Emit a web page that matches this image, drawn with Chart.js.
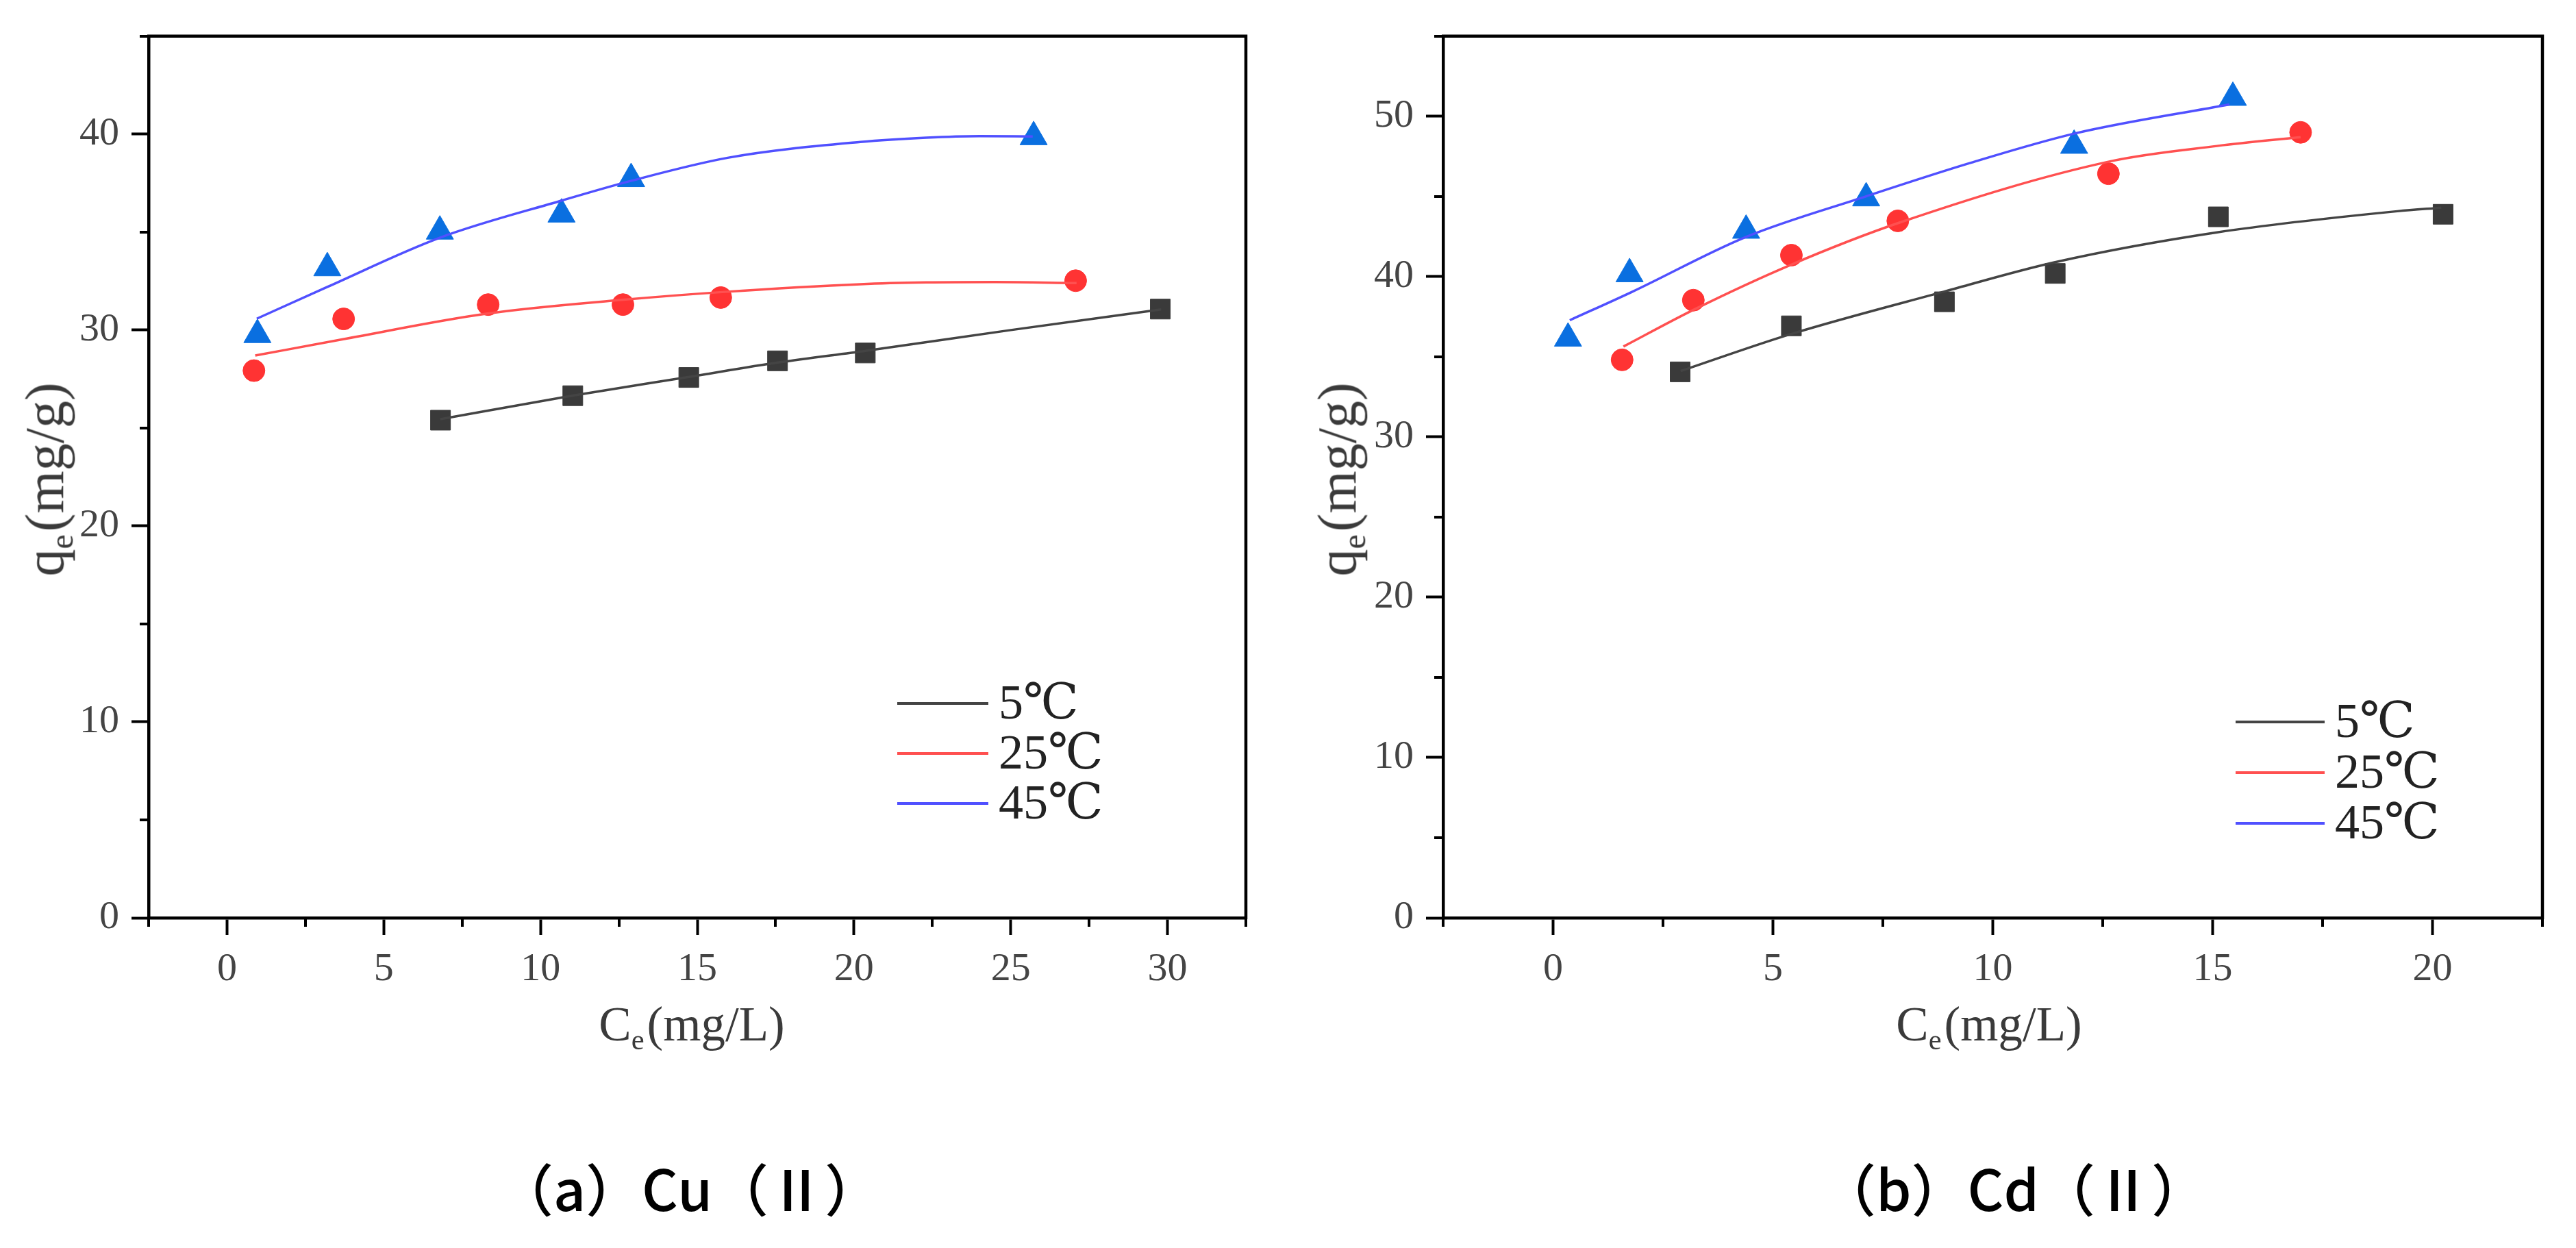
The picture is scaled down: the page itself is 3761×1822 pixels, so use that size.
<!DOCTYPE html>
<html>
<head>
<meta charset="utf-8">
<script src="https://cdn.jsdelivr.net/npm/chart.js@4.4.0/dist/chart.umd.min.js"></script>
<style>
html,body{margin:0;padding:0;background:#fff;width:3761px;height:1822px;overflow:hidden;}
canvas{position:absolute;top:0;}
#c1{left:0;}
#c2{left:1880px;}
.xt,.yt{position:absolute;white-space:nowrap;font-family:"Liberation Serif",serif;color:#3a3a3a;line-height:1;}
.xt{font-size:71px;transform:translate(-50%,-50%);}
.yt{font-size:80px;transform:translate(-50%,-50%) rotate(-90deg);}
.xt sub,.yt sub{font-size:0.6em;vertical-align:-0.3em;margin-right:4px;}
.cap{position:absolute;white-space:nowrap;font-family:"Noto Sans CJK SC",sans-serif;font-weight:500;font-size:82px;color:#000;transform:translate(-50%,-50%);line-height:1;}
</style>
</head>
<body>
<canvas id="c1" width="1880" height="1822"></canvas>
<canvas id="c2" width="1881" height="1822"></canvas>
<div class="xt" style="left:1010px;top:1500px;">C<sub>e</sub>(mg/L)</div>
<div class="xt" style="left:2904px;top:1500px;">C<sub>e</sub>(mg/L)</div>
<div class="yt" style="left:70px;top:700px;">q<sub>e</sub>(mg/g)</div>
<div class="yt" style="left:1957px;top:700px;">q<sub>e</sub>(mg/g)</div>
<div class="cap" style="left:1006px;top:1733px;">（a）Cu（Ⅱ）</div>
<div class="cap" style="left:2940px;top:1733px;">（b）Cd（Ⅱ）</div>
<script>
// ---------- data ----------
const seriesLabels = ['5℃', '25℃', '45℃'];

// (a) Cu(II) — measured points
const cu5X  = [6.81, 11.03, 14.73, 17.56, 20.36, 29.77];
const cu5Y  = [25.40, 26.65, 27.58, 28.43, 28.83, 31.07];
const cu25X = [0.86, 3.72, 8.33, 12.63, 15.75, 27.07];
const cu25Y = [27.93, 30.57, 31.30, 31.30, 31.66, 32.52];
const cu45X = [0.97, 3.20, 6.79, 10.67, 12.89, 25.73];
const cu45Y = [29.76, 33.17, 35.04, 35.91, 37.72, 39.86];
// (a) Cu(II) — fitted curves
const cu5FitX  = [6.8, 11.0, 14.7, 17.6, 20.4, 25.0, 29.8];
const cu5FitY  = [25.45, 26.65, 27.6, 28.35, 28.95, 30.0, 31.05];
const cu25FitX = [0.9, 3.7, 8.3, 12.6, 15.8, 20.2, 22.3, 24.5, 27.1];
const cu25FitY = [28.7, 29.53, 30.84, 31.54, 31.94, 32.34, 32.43, 32.45, 32.4];
const cu45FitX = [0.95, 3.2, 6.8, 10.7, 12.9, 16.0, 20.2, 22.3, 24.0, 25.7];
const cu45FitY = [30.58, 32.2, 34.72, 36.62, 37.62, 38.8, 39.6, 39.82, 39.9, 39.88];

// (b) Cd(II) — measured points
const cd5X  = [2.89, 5.42, 8.90, 11.42, 15.13, 20.24];
const cd5Y  = [34.06, 36.93, 38.43, 40.20, 43.73, 43.89];
const cd25X = [1.57, 3.19, 5.42, 7.84, 12.63, 17.0];
const cd25Y = [34.81, 38.53, 41.34, 43.48, 46.42, 49.0];
const cd45X = [0.34, 1.74, 4.39, 7.12, 11.85, 15.46];
const cd45Y = [36.15, 40.17, 42.88, 44.90, 48.18, 51.17];
// (b) Cd(II) — fitted curves
const cd5FitX  = [2.9, 5.4, 8.9, 11.4, 15.1, 19.2, 20.2];
const cd5FitY  = [34.11, 36.41, 39.07, 40.89, 42.76, 44.08, 44.3];
const cd25FitX = [1.6, 3.2, 5.4, 7.9, 12.7, 15.1, 17.0];
const cd25FitY = [35.64, 37.94, 40.73, 43.39, 47.21, 48.15, 48.7];
const cd45FitX = [0.38, 1.78, 4.39, 7.11, 9.5, 11.88, 15.38];
const cd45FitY = [37.28, 39.03, 42.48, 45.0, 47.1, 48.94, 50.74];

// axis ranges / tick steps
const cuXRange = [-2.5, 32.5];
const cuYRange = [0, 45];
const cdXRange = [-2.5, 22.5];
const cdYRange = [0, 55];
const xMinorStep = 2.5, xMajorStep = 5;
const yMinorStep = 5, yMajorStep = 10;

// ---------- styling ----------
const markerColors = ['#3a3a3a', '#ff3333', '#0a6fe0'];
const lineColors = ['#444444', '#ff5050', '#5050ff'];
const markerStyles = ['rect', 'circle', 'triangle'];
const markerRadii = [20.5, 16, 23];
const tickFont = {family: '"Liberation Serif", serif', size: 58};
const tickColor = '#444';

function zip(xs, ys) { return xs.map((x, i) => ({x: x, y: ys[i]})); }
function isMult(v, step) { const r = Math.abs(v / step - Math.round(v / step)); return r < 1e-6; }

const minorTicksAndFrame = {
  id: 'minorTicksAndFrame',
  afterDraw(chart) {
    const ctx = chart.ctx, a = chart.chartArea;
    const xs = chart.scales.x, ys = chart.scales.y;
    ctx.save();
    ctx.strokeStyle = '#000';
    ctx.lineWidth = 4;
    xs.ticks.forEach(t => {
      if (!isMult(t.value, xMajorStep)) {
        const px = Math.round(xs.getPixelForValue(t.value));
        ctx.beginPath(); ctx.moveTo(px, a.bottom); ctx.lineTo(px, a.bottom + 13); ctx.stroke();
      }
    });
    ys.ticks.forEach(t => {
      if (!isMult(t.value, yMajorStep)) {
        const py = Math.round(ys.getPixelForValue(t.value));
        ctx.beginPath(); ctx.moveTo(a.left, py); ctx.lineTo(a.left - 13, py); ctx.stroke();
      }
    });
    // top and right frame
    ctx.lineWidth = 4.5;
    ctx.beginPath();
    ctx.moveTo(a.left - 2, a.top);
    ctx.lineTo(a.right, a.top);
    ctx.lineTo(a.right, a.bottom + 2);
    ctx.stroke();
    ctx.restore();
  }
};

const fitLegend = {
  id: 'fitLegend',
  afterDraw(chart, args, opts) {
    const ctx = chart.ctx;
    ctx.save();
    ctx.font = '72px "Liberation Serif", "DejaVu Serif", serif';
    ctx.textBaseline = 'middle';
    ctx.textAlign = 'left';
    const fitSets = chart.data.datasets.filter(d => d.isFit);
    fitSets.forEach((d, i) => {
      const y = opts.rows[i];
      ctx.strokeStyle = d.borderColor;
      ctx.lineWidth = 4;
      ctx.beginPath(); ctx.moveTo(opts.x0, y); ctx.lineTo(opts.x1, y); ctx.stroke();
      ctx.fillStyle = '#222';
      ctx.fillText(d.label, opts.tx, y + 3);
    });
    ctx.restore();
  }
};

function makePanel(id, pts, fits, xr, yr, yAxisWidth, padRight, legendOpts) {
  const datasets = [];
  fits.forEach((f, i) => {
    datasets.push({
      label: seriesLabels[i], isFit: true, data: zip(f[0], f[1]),
      showLine: true, borderColor: lineColors[i], borderWidth: 3.5,
      pointRadius: 0, pointHoverRadius: 0, fill: false,
      cubicInterpolationMode: 'monotone', order: 0
    });
  });
  pts.forEach((p, i) => {
    datasets.push({
      label: seriesLabels[i] + ' data', data: zip(p[0], p[1]),
      showLine: false, pointStyle: markerStyles[i], pointRadius: markerRadii[i],
      pointBackgroundColor: markerColors[i], pointBorderColor: markerColors[i],
      pointBorderWidth: 1, backgroundColor: markerColors[i], borderColor: markerColors[i], order: 1
    });
  });
  return new Chart(document.getElementById(id), {
    type: 'scatter',
    data: {datasets: datasets},
    options: {
      responsive: false, animation: false, devicePixelRatio: 1,
      layout: {padding: {left: 0, top: 52, right: padRight, bottom: 0}},
      plugins: {legend: {display: false}, tooltip: {enabled: false}, fitLegend: legendOpts},
      scales: {
        x: {
          type: 'linear', position: 'bottom', min: xr[0], max: xr[1],
          ticks: {stepSize: xMinorStep, autoSkip: false, maxRotation: 0, minRotation: 0, padding: 16,
                  font: tickFont, color: tickColor,
                  callback: v => isMult(v, xMajorStep) ? String(Math.round(v)) : ''},
          grid: {display: true, drawOnChartArea: false, drawTicks: true, tickLength: 25, tickWidth: 4,
                 tickColor: c => (c.tick && isMult(c.tick.value, xMajorStep)) ? '#000' : 'rgba(0,0,0,0)'},
          border: {display: true, color: '#000', width: 4.5},
          afterFit: s => { s.height = 1822 - 1340; }
        },
        y: {
          type: 'linear', position: 'left', min: yr[0], max: yr[1],
          ticks: {stepSize: yMinorStep, autoSkip: false, padding: 18,
                  font: tickFont, color: tickColor,
                  callback: v => isMult(v, yMajorStep) ? String(Math.round(v)) : ''},
          grid: {display: true, drawOnChartArea: false, drawTicks: true, tickLength: 25, tickWidth: 4,
                 tickColor: c => (c.tick && isMult(c.tick.value, yMajorStep)) ? '#000' : 'rgba(0,0,0,0)'},
          border: {display: true, color: '#000', width: 4.5},
          afterFit: s => { s.width = yAxisWidth; }
        }
      }
    },
    plugins: [minorTicksAndFrame, fitLegend]
  });
}

makePanel('c1',
  [[cu5X, cu5Y], [cu25X, cu25Y], [cu45X, cu45Y]],
  [[cu5FitX, cu5FitY], [cu25FitX, cu25FitY], [cu45FitX, cu45FitY]],
  cuXRange, cuYRange, 217, 61,
  {x0: 1310, x1: 1443, tx: 1458, rows: [1027, 1100, 1173]});

makePanel('c2',
  [[cd5X, cd5Y], [cd25X, cd25Y], [cd45X, cd45Y]],
  [[cd5FitX, cd5FitY], [cd25FitX, cd25FitY], [cd45FitX, cd45FitY]],
  cdXRange, cdYRange, 227, 49,
  {x0: 1384, x1: 1514, tx: 1529, rows: [1054, 1128, 1202]});
</script>
</body>
</html>
